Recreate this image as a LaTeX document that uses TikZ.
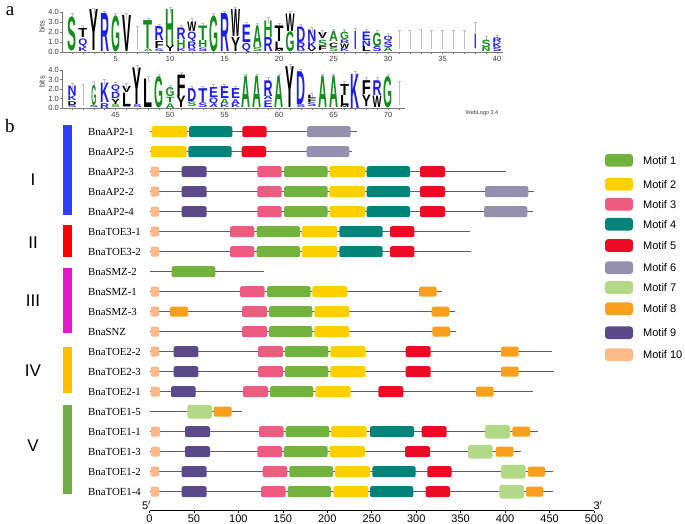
\documentclass[tikz,border=0pt]{standalone}
\usepackage{fontspec}
\setmainfont{Liberation Serif}
\setsansfont{Liberation Sans}
\usepackage{graphicx}
\definecolor{m1}{RGB}{114,179,62}
\definecolor{m2}{RGB}{255,208,0}
\definecolor{m3}{RGB}{238,90,128}
\definecolor{m4}{RGB}{0,132,122}
\definecolor{m5}{RGB}{236,10,36}
\definecolor{m6}{RGB}{148,144,174}
\definecolor{m7}{RGB}{178,218,134}
\definecolor{m8}{RGB}{251,160,28}
\definecolor{m9}{RGB}{91,74,138}
\definecolor{m10}{RGB}{255,186,138}
\definecolor{gBlue}{RGB}{46,63,255}
\definecolor{gRed}{RGB}{255,0,0}
\definecolor{gMag}{RGB}{228,24,200}
\definecolor{gYel}{RGB}{255,192,0}
\definecolor{gGrn}{RGB}{112,173,71}
\definecolor{lgG}{RGB}{20,140,30}
\definecolor{lgB}{RGB}{30,30,235}
\definecolor{lgK}{RGB}{0,0,0}
\newcommand\lgL[6]{\node[inner sep=0pt,outer sep=0pt,anchor=south] at (#1,#2) {\resizebox*{#6pt}{#3pt}{\color{#5}\sffamily\bfseries #4}};}
\newcommand\gn[4]{\node[glab] (#4) at (88,#1) {#2}; \draw[bb] (149.5,#1) -- (#3,#1);}
\newcommand\mot[4]{\fill[#4,rounded corners=2pt] (#2,#1-5.5) rectangle (#3,#1+5.5);}
\newcommand\motS[4]{\fill[#4,rounded corners=2pt] (#2,#1-5) rectangle (#3,#1+5);}
\newcommand\motL[4]{\fill[#4,rounded corners=2.5pt] (#2,#1-6.8) rectangle (#3,#1+6.8);}
\begin{document}
\begin{tikzpicture}[x=1pt,y=-1pt,
  glab/.style={anchor=west,inner sep=0pt,font=\fontsize{10.8}{12}\selectfont},
  bb/.style={draw={rgb,255:red,95;green,95;blue,95},line width=1.2pt},
  ebar/.style={draw={rgb,255:red,190;green,190;blue,190},line width=0.45pt},
  logoax/.style={draw={rgb,255:red,120;green,120;blue,120},line width=0.6pt},
  ticklab/.style={font=\sffamily\fontsize{7.5}{8}\selectfont,inner sep=0pt,text={rgb,255:red,60;green,60;blue,60}},
  roman/.style={font=\sffamily\fontsize{17}{18}\selectfont,inner sep=0pt},
  leglab/.style={anchor=west,inner sep=0pt,font=\sffamily\fontsize{11}{12}\selectfont}]
\useasboundingbox (0,0) rectangle (685,524);
\fill[white] (0,0) rectangle (685,524);

% panel labels
\node[font=\fontsize{19}{20}\selectfont,inner sep=0pt] (la) at (10,11) {a};
\node[font=\fontsize{19}{20}\selectfont,inner sep=0pt] (lb) at (10,126) {b};

% ===== WebLogo top =====
\draw[logoax] (62,12) -- (62,52) -- (503,52);
\foreach \v in {0,1,2,3,4}{\draw[logoax] (59.5,52-\v*10) -- (62,52-\v*10);
  \node[ticklab,anchor=east] at (59,52-\v*10) {\v.0};}
\foreach \p in {1,...,40}{\draw[logoax] (72+\p*10.9-10.9,52) -- (72+\p*10.9-10.9,53.8);}
\foreach \p in {5,10,...,40}{\node[ticklab] at (72+\p*10.9-10.9,58.5) {\p};}
\node[ticklab,rotate=90] at (42,27) {bits};
\foreach \p/\a/\b in {1/3.2/3.9,2/1.8/2.7,3/3.8/4.4,4/3.5/4.1,5/3.3/3.9,6/3.3/3.9,7/0.2/2.6,8/2.8/3.4,9/2.2/2.8,10/3.9/4.5,11/2.1/2.7,12/2.7/3.4,13/2.3/2.9,14/3.3/3.9,15/3.5/4.1,16/3.9/4.5,17/2.4/3.0,18/2.3/2.9,19/2.8/3.5,20/2.3/2.9,21/3.5/4.1,22/2.2/2.8,23/1.9/2.5,24/1.6/2.2,25/1.7/2.3,26/1.7/2.3,27/1.7/2.4,28/1.7/2.3,29/1.6/2.2,30/1.3/1.9,31/0.3/2.2,32/0.3/2.2,33/0.3/2.3,34/0.3/2.2,35/0.3/2.2,36/0.3/2.2,37/0.3/2.2,38/0.3/3.0,39/1.0/1.6,40/1.1/1.7}{
  \draw[ebar] (72+\p*10.9-10.9,52-\a*10) -- (72+\p*10.9-10.9,52-\b*10);
  \draw[ebar] (70.5+\p*10.9-10.9,52-\b*10) -- (73.5+\p*10.9-10.9,52-\b*10);}
\foreach \p/\l/\c/\a/\b in {1/S/lgG/0.1/3.5,2/K/lgB/0/0.4,2/Q/lgB/0.45/1.3,2/T/lgK/1.4/2.3,3/Y/lgK/0.1/4.2,4/R/lgB/0/3.8,5/G/lgG/0/3.6,6/V/lgK/0/3.6,
  8/A/lgG/0/0.25,8/T/lgG/0.3/3.1,9/S/lgB/0/0.25,9/F/lgK/0.3/1.0,9/R/lgB/1.1/2.5,10/Y/lgK/0/0.6,10/H/lgG/0.6/4.2,
  11/K/lgB/0/0.3,11/H/lgG/0.35/1.2,11/R/lgB/1.25/2.4,12/S/lgB/0/0.3,12/R/lgB/0.35/1.0,12/Q/lgB/1.05/2.0,12/W/lgK/2.05/3.0,
  13/S/lgB/0/0.35,13/H/lgG/0.4/1.1,13/T/lgG/1.15/2.6,14/G/lgG/0/3.6,15/R/lgB/0/3.8,16/Y/lgK/0/1.4,16/W/lgK/1.5/4.2,
  17/Q/lgB/0/0.9,17/E/lgB/0.95/2.7,18/S/lgG/0/0.4,18/A/lgG/0.45/2.6,19/R/lgB/0/1.4,19/H/lgG/1.45/3.1,
  20/M/lgK/0/0.2,20/L/lgK/0.25/1.0,20/T/lgK/1.05/2.6,21/G/lgG/0/2.0,21/W/lgK/2.05/3.8,22/S/lgB/0/0.1,22/R/lgB/0.12/0.9,22/D/lgB/0.95/2.5,
  23/V/lgK/0/0.3,23/K/lgB/0.35/1.0,23/N/lgB/1.05/2.2,24/F/lgK/0.1/0.5,24/S/lgG/0.55/1.2,24/V/lgK/1.3/1.9,
  25/S/lgG/0/0.4,25/C/lgK/0.45/0.9,25/A/lgG/1.0/2.0,26/K/lgB/0/0.3,26/W/lgK/0.35/0.8,26/R/lgB/0.85/1.2,26/G/lgG/1.25/2.0,
  28/L/lgK/0/0.5,28/N/lgB/0.55/1.1,28/E/lgB/1.15/2.0,29/S/lgB/0/0.5,29/G/lgG/0.55/1.9,
  30/A/lgG/0/0.4,30/S/lgB/0.45/1.0,30/Q/lgB/1.05/1.6,39/N/lgG/0/0.4,39/S/lgG/0.45/1.2,40/S/lgB/0/0.4,40/K/lgB/0.45/0.9,40/R/lgB/0.95/1.4}{
  \pgfmathsetmacro\xx{72+(\p-1)*10.9}\pgfmathsetmacro\yy{52-\a*10}\pgfmathsetmacro\hh{(\b-\a)*10}
  \lgL{\xx}{\yy}{\hh}{\l}{\c}{9}}
\foreach \p/\c/\a/\b in {27/lgB/0.2/2.0,38/lgB/0.3/1.7}{
  \pgfmathsetmacro\xx{72+(\p-1)*10.9}\pgfmathsetmacro\yy{52-\a*10}\pgfmathsetmacro\hh{(\b-\a)*10}
  \lgL{\xx}{\yy}{\hh}{I}{\c}{2.5}}

% ===== WebLogo bottom =====
\draw[logoax] (62,70) -- (62,108) -- (405,108);
\foreach \v in {0,1,2,3,4}{\draw[logoax] (59.5,108-\v*9.5) -- (62,108-\v*9.5);
  \node[ticklab,anchor=east] at (59,108-\v*9.5) {\v.0};}
\foreach \p in {41,...,71}{\draw[logoax] (72+\p*10.9-446.9,108) -- (72+\p*10.9-446.9,109.8);}
\foreach \p in {45,50,...,70}{\node[ticklab] at (72+\p*10.9-446.9,114.5) {\p};}
\node[ticklab,rotate=90] at (42,82) {bits};
\node[font=\sffamily\fontsize{5.5}{6}\selectfont,inner sep=0pt,text={rgb,255:red,60;green,60;blue,60}] (wl) at (482,113) {WebLogo 3.4};
\foreach \p/\a/\b in {41/2.0/2.6,42/0.2/2.5,43/2.1/2.8,44/2.4/3.0,45/2.1/2.7,46/2.0/2.6,47/3.9/4.5,48/2.7/3.3,49/3.0/3.6,50/1.8/2.4,51/3.2/3.8,52/1.7/2.3,53/1.7/2.3,54/1.9/2.5,55/1.9/2.5,56/1.7/2.3,57/3.0/3.6,58/3.0/3.6,59/2.6/3.2,60/3.0/3.6,61/4.0/4.6,62/3.5/4.1,63/1.0/1.6,64/3.0/3.6,65/3.0/3.6,66/2.2/2.8,67/3.3/3.9,68/2.6/3.2,69/2.6/3.2,70/3.0/3.6,71/0.3/2.8}{
  \draw[ebar] (72+\p*10.9-446.9,108-\a*9.5) -- (72+\p*10.9-446.9,108-\b*9.5);
  \draw[ebar] (70.5+\p*10.9-446.9,108-\b*9.5) -- (73.5+\p*10.9-446.9,108-\b*9.5);}
\foreach \p/\l/\c/\a/\b in {41/S/lgB/0/0.25,41/D/lgK/0.3/0.7,41/K/lgB/0.75/1.25,41/N/lgB/1.3/2.3,43/S/lgB/0/0.2,
  44/R/lgB/0/0.5,44/K/lgB/0.55/2.6,45/S/lgG/0/0.3,45/Y/lgK/0.35/0.9,45/D/lgB/0.95/1.6,45/Q/lgB/1.65/2.4,
  46/S/lgB/0/0.15,46/L/lgK/0.2/1.6,46/V/lgK/1.65/2.3,47/S/lgB/0/0.3,47/Y/lgK/0.35/4.2,48/L/lgK/0/3.0,49/G/lgG/0/3.3,
  50/A/lgG/0/0.5,50/T/lgG/0.55/1.1,50/G/lgG/1.15/2.1,51/Y/lgK/0/1.2,51/F/lgK/1.25/3.5,52/S/lgG/0.1/0.6,52/D/lgB/0.65/2.0,
  53/S/lgB/0/0.5,53/T/lgB/0.55/2.0,54/A/lgB/0/0.3,54/Q/lgB/0.35/1.1,54/E/lgB/1.15/2.2,55/K/lgB/0/0.3,55/A/lgG/0.35/0.9,55/E/lgB/0.95/2.2,
  56/K/lgB/0/0.35,56/A/lgB/0.4/0.9,56/E/lgB/0.95/2.0,57/A/lgG/0/3.3,58/A/lgG/0/3.3,59/E/lgB/0.1/0.8,59/A/lgB/0.85/1.2,59/R/lgB/1.25/2.9,
  60/A/lgG/0/3.3,61/Y/lgK/0/4.3,62/S/lgB/0/0.3,62/D/lgB/0.35/3.8,63/S/lgB/0.1/0.5,63/F/lgK/0.55/0.9,63/L/lgK/0.95/1.3,
  64/A/lgG/0/3.3,65/A/lgG/0/3.3,66/M/lgK/0/0.2,66/L/lgK/0.25/1.3,66/T/lgK/1.35/2.5,67/K/lgB/0/3.6,
  68/Y/lgK/0.2/1.4,68/F/lgK/1.45/2.9,69/W/lgK/0.1/1.3,69/R/lgB/1.35/2.9,70/G/lgG/0/3.3}{
  \pgfmathsetmacro\xx{72+(\p-41)*10.9}\pgfmathsetmacro\yy{108-\a*9.5}\pgfmathsetmacro\hh{(\b-\a)*9.5}
  \lgL{\xx}{\yy}{\hh}{\l}{\c}{9}}
\pgfmathsetmacro\xx{72+(43-41)*10.9}\pgfmathsetmacro\yy{108-0.25*9.5}\pgfmathsetmacro\hh{(2.4-0.25)*9.5}
\lgL{\xx}{\yy}{\hh}{G}{lgG}{5}

% ===== group bars and numerals =====
\fill[gBlue] (63,125) rectangle (71.5,215);
\fill[gRed] (63,225) rectangle (71.5,257);
\fill[gMag] (63,268) rectangle (71.5,333);
\fill[gYel] (63,346.5) rectangle (71.5,393);
\fill[gGrn] (63,405) rectangle (71.5,494);
\node[roman] (r1) at (33,180) {I};
\node[roman] (r2) at (33,243) {II};
\node[roman] (r3) at (33,301) {III};
\node[roman] (r4) at (33,371) {IV};
\node[roman] (r5) at (33,446) {V};

% ===== genes =====
\gn{131.7}{BnaAP2-1}{356.7}{g1}
\mot{131.7}{151.7}{187.3}{m2}\mot{131.7}{189}{232.3}{m4}\mot{131.7}{242.3}{266.7}{m5}\mot{131.7}{307}{350.7}{m6}
\gn{151.7}{BnaAP2-5}{351.7}{g2}
\mot{151.7}{150.7}{186.7}{m2}\mot{151.7}{188.3}{231.7}{m4}\mot{151.7}{241.7}{266}{m5}\mot{151.7}{306.7}{349.3}{m6}
\gn{171.7}{BnaAP2-3}{505.7}{g3}
\motS{171.7}{150.7}{159.3}{m10}\mot{171.7}{181.7}{206.7}{m9}\mot{171.7}{257.3}{281.7}{m3}\mot{171.7}{284}{327.7}{m1}\mot{171.7}{329.3}{365}{m2}\mot{171.7}{366.7}{410}{m4}\mot{171.7}{420}{445}{m5}
\gn{191.7}{BnaAP2-2}{534}{g4}
\motS{191.7}{150.7}{159.3}{m10}\mot{191.7}{181.7}{206.7}{m9}\mot{191.7}{257.3}{281.7}{m3}\mot{191.7}{284}{327.7}{m1}\mot{191.7}{329.3}{365}{m2}\mot{191.7}{366.7}{410}{m4}\mot{191.7}{420}{445}{m5}\mot{191.7}{485}{528.3}{m6}
\gn{211.7}{BnaAP2-4}{532.7}{g5}
\motS{211.7}{150.7}{159.3}{m10}\mot{211.7}{181.7}{206.7}{m9}\mot{211.7}{257.3}{281.7}{m3}\mot{211.7}{284}{327.7}{m1}\mot{211.7}{329.3}{365}{m2}\mot{211.7}{366.7}{410}{m4}\mot{211.7}{420}{445}{m5}\mot{211.7}{484}{527.3}{m6}
\gn{231.7}{BnaTOE3-1}{470}{g6}
\motS{231.7}{150.7}{159.3}{m10}\mot{231.7}{230}{254.3}{m3}\mot{231.7}{256.7}{300}{m1}\mot{231.7}{301.7}{337.3}{m2}\mot{231.7}{339.3}{382.7}{m4}\mot{231.7}{390}{414.3}{m5}
\gn{251.7}{BnaTOE3-2}{470.7}{g7}
\motS{251.7}{150.7}{159.3}{m10}\mot{251.7}{230}{254.3}{m3}\mot{251.7}{256.7}{300}{m1}\mot{251.7}{301.7}{337.3}{m2}\mot{251.7}{339.3}{382.7}{m4}\mot{251.7}{390}{414.3}{m5}
\gn{271.7}{BnaSMZ-2}{264}{g8}
\mot{271.7}{171.7}{215.3}{m1}
\gn{291.7}{BnaSMZ-1}{441.7}{g9}
\motS{291.7}{150.7}{159.3}{m10}\mot{291.7}{240}{264.7}{m3}\mot{291.7}{267}{310.7}{m1}\mot{291.7}{312.3}{347.3}{m2}\motS{291.7}{419}{436.7}{m8}
\gn{311.7}{BnaSMZ-3}{455}{g10}
\motS{311.7}{150.7}{159.3}{m10}\motS{311.7}{170}{188}{m8}\mot{311.7}{242}{267}{m3}\mot{311.7}{269}{312.3}{m1}\mot{311.7}{314.3}{349.3}{m2}\motS{311.7}{431.7}{449.3}{m8}
\gn{331.7}{BnaSNZ}{455.7}{g11}
\motS{331.7}{150.7}{159.3}{m10}\mot{331.7}{242}{267}{m3}\mot{331.7}{269}{312.3}{m1}\mot{331.7}{314.3}{349.3}{m2}\motS{331.7}{432.3}{450}{m8}
\gn{351.7}{BnaTOE2-2}{552}{g12}
\motS{351.7}{150.7}{159.3}{m10}\mot{351.7}{173.7}{198.3}{m9}\mot{351.7}{258}{283}{m3}\mot{351.7}{285}{328.3}{m1}\mot{351.7}{330.3}{365.7}{m2}\mot{351.7}{405.7}{430.7}{m5}\motS{351.7}{501}{518.7}{m8}
\gn{371.7}{BnaTOE2-3}{554}{g13}
\motS{371.7}{150.7}{159.3}{m10}\mot{371.7}{173.7}{198.3}{m9}\mot{371.7}{258}{283}{m3}\mot{371.7}{285}{328.3}{m1}\mot{371.7}{330.3}{365.7}{m2}\mot{371.7}{405.7}{430.7}{m5}\motS{371.7}{501}{518.7}{m8}
\gn{391.7}{BnaTOE2-1}{533.3}{g14}
\motS{391.7}{150.7}{160}{m10}\mot{391.7}{171}{195.7}{m9}\mot{391.7}{243}{268}{m3}\mot{391.7}{270}{313.3}{m1}\mot{391.7}{315.3}{350.7}{m2}\mot{391.7}{378.3}{403.3}{m5}\motS{391.7}{476}{493.7}{m8}
\gn{411.7}{BnaTOE1-5}{241.7}{g15}
\motL{411.7}{187.3}{212}{m7}\motS{411.7}{213.7}{231.7}{m8}
\gn{431.7}{BnaTOE1-1}{537.7}{g16}
\motS{431.7}{151}{160}{m10}\mot{431.7}{185}{210}{m9}\mot{431.7}{259}{283.7}{m3}\mot{431.7}{285.7}{329.3}{m1}\mot{431.7}{331}{366.7}{m2}\mot{431.7}{370}{414}{m4}\mot{431.7}{421.7}{446.7}{m5}\motL{431.7}{485}{510}{m7}\motS{431.7}{512.3}{530}{m8}
\gn{451.7}{BnaTOE1-3}{520.7}{g17}
\motS{451.7}{151}{160}{m10}\mot{451.7}{185}{210}{m9}\mot{451.7}{257.3}{282}{m3}\mot{451.7}{283.7}{327.7}{m1}\mot{451.7}{329.3}{365}{m2}\mot{451.7}{405}{430}{m5}\motL{451.7}{468}{492.7}{m7}\motS{451.7}{495.7}{513.3}{m8}
\gn{471.7}{BnaTOE1-2}{553.3}{g18}
\motS{471.7}{150.7}{159.3}{m10}\mot{471.7}{181.7}{206.7}{m9}\mot{471.7}{262.7}{287.3}{m3}\mot{471.7}{289.3}{333}{m1}\mot{471.7}{335}{370}{m2}\mot{471.7}{372.3}{415.7}{m4}\mot{471.7}{427.3}{451.7}{m5}\motL{471.7}{501}{525.7}{m7}\motS{471.7}{527.7}{545}{m8}
\gn{491.7}{BnaTOE1-4}{553.3}{g19}
\motS{491.7}{150.7}{159.3}{m10}\mot{491.7}{181.7}{206.7}{m9}\mot{491.7}{261}{285.7}{m3}\mot{491.7}{287.7}{331}{m1}\mot{491.7}{333.3}{368.3}{m2}\mot{491.7}{370}{413.3}{m4}\mot{491.7}{425.7}{450}{m5}\motL{491.7}{499.3}{524}{m7}\motS{491.7}{526}{543.3}{m8}

% ===== axis =====
\draw[line width=0.8pt] (149.5,510.7) -- (594,510.7);
\foreach \v in {0,50,...,500}{
  \draw[line width=0.6pt] (149.5+\v*0.889,510.7) -- (149.5+\v*0.889,512.5);
  \node[font=\sffamily\fontsize{11}{12}\selectfont,inner sep=0pt] at (149.5+\v*0.889,518.3) {\v};}
\node[font=\sffamily\fontsize{11}{12}\selectfont,inner sep=0pt] (p5) at (146.5,505) {5$'$};
\node[font=\sffamily\fontsize{11}{12}\selectfont,inner sep=0pt] (p3) at (598,505) {3$'$};

% ===== legend =====
\foreach \i/\c in {1/160.3,2/184.2,3/204.2,4/224.2,5/245.5,6/267.7,7/287.5,8/308.7,9/332.7,10/354.7}{
  \fill[m\i,rounded corners=3pt] (605,\c-6.3) rectangle (633,\c+6.3);
  \node[leglab] (leg\i) at (643,\c) {Motif \i};}
\end{tikzpicture}
\end{document}
